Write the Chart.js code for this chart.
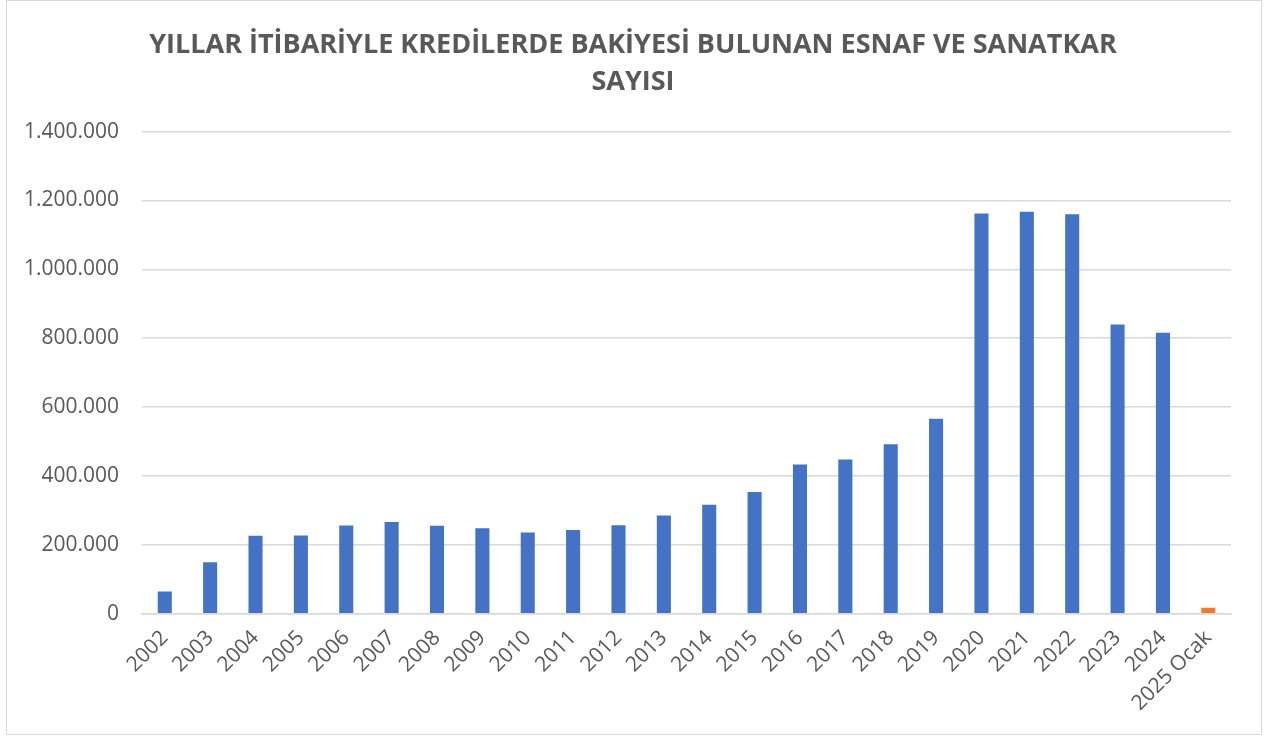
<!DOCTYPE html>
<html>
<head>
<meta charset="utf-8">
<script src="https://cdn.jsdelivr.net/npm/chart.js@4"></script>
<style>
  html, body { margin: 0; padding: 0; background: #fff; }
  #frame { position: absolute; left: 6px; top: 0; width: 1256px; height: 735px; border: 1px solid #d9d9d9; box-sizing: border-box; }
  #wrap { position: absolute; left: 0; top: 0; width: 1266px; height: 738px; }
</style>
</head>
<body>
<div id="frame"></div>
<div id="wrap"><canvas id="chart"></canvas></div>
<script>
const years = ['2002', '2003', '2004', '2005', '2006', '2007', '2008', '2009', '2010', '2011', '2012', '2013',
  '2014', '2015', '2016', '2017', '2018', '2019', '2020', '2021', '2022', '2023', '2024', '2025 Ocak'];
const counts = [64000, 149000, 226000, 227000, 256000, 266000, 255000, 248000, 236000, 243000, 257000, 285000,
  316000, 353000, 433000, 448000, 492000, 566000, 1162000, 1167000, 1160000, 840000, 816000, 17000];
const titleLines = ['YILLAR İTİBARİYLE KREDİLERDE BAKİYESİ BULUNAN ESNAF VE SANATKAR', 'SAYISI'];

const blue = '#4472C4';
const orange = '#ED7D31';
const gray = '#595959';

const fmt = (v) => String(v).replace(/\B(?=(\d{3})+(?!\d))/g, '.');

new Chart(document.getElementById('chart'), {
  type: 'bar',
  data: {
    labels: years,
    datasets: [{
      data: counts,
      backgroundColor: (c) => (c.dataIndex === counts.length - 1 ? orange : blue),
      barPercentage: 0.31,
      categoryPercentage: 1,
    }],
  },
  options: {
    responsive: true,
    maintainAspectRatio: false,
    animation: false,
    layout: { padding: { left: 1, right: 1, top: 14, bottom: 18 } },
    plugins: {
      legend: { display: false },
      tooltip: { enabled: false },
      title: {
        display: true,
        text: titleLines,
        color: gray,
        font: { family: 'Open Sans', size: 27, weight: 'bold', lineHeight: 1.4 },
        padding: { top: 12, bottom: 30 },
      },
    },
    scales: {
      x: {
        grid: { display: false },
        border: { color: '#d9d9d9', width: 1.5 },
        ticks: {
          color: gray,
          font: { family: 'Open Sans', size: 21 },
          maxRotation: 45,
          minRotation: 45,
          autoSkip: false,
          padding: 4,
        },
      },
      y: {
        min: 0,
        max: 1400000,
        border: { display: false },
        grid: { color: '#d9d9d9', lineWidth: 1.5, drawTicks: false },
        ticks: {
          stepSize: 200000,
          color: gray,
          font: { family: 'Open Sans', size: 21 },
          padding: 23,
          callback: (v) => fmt(v),
        },
      },
      // empty right margin so the title stays centred on the page
      spacer: {
        type: 'linear',
        position: 'right',
        grid: { display: false },
        border: { display: false },
        ticks: { display: false },
        afterFit: (s) => { s.width = 34; },
      },
    },
  },
});
</script>
</body>
</html>
